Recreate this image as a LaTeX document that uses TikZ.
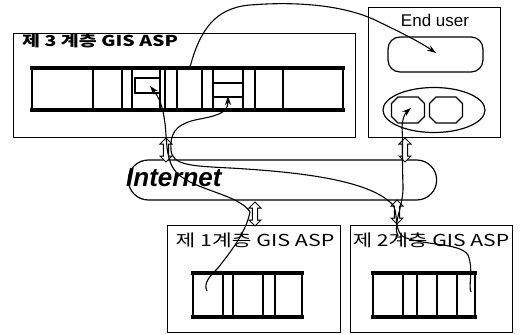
\documentclass[tikz,border=0pt]{standalone}
\usepackage{fontspec}
\newfontfamily\krfont{Noto Sans CJK KR}
\newfontfamily\lsans{Liberation Sans}
\usetikzlibrary{arrows.meta,shapes.arrows,shapes.misc,shapes.geometric,positioning}
\tikzset{
  >={Stealth[length=9pt,width=6pt]},
  layer/.style={draw,line width=1.2pt,anchor=north west,inner sep=0pt},
  rail/.style={line width=3.5pt},
  cell/.style={line width=1.6pt},
  flow/.style={line width=1.1pt},
  link/.style={double arrow,draw,fill=white,rotate=90,line width=1pt,
    minimum height=24pt,minimum width=12pt,inner sep=2pt,
    double arrow head extend=3pt},
}

\begin{document}
\begin{tikzpicture}[x=1pt,y=-1pt]
\useasboundingbox (0,0) rectangle (520,335);

% layer boxes
\node[layer,minimum width=342pt,minimum height=104pt] (asp3) at (13,33) {};
\node[layer,minimum width=132pt,minimum height=130pt] (user) at (368,7) {};
\node[layer,minimum width=173pt,minimum height=107pt] (asp1) at (167,225) {};
\node[layer,minimum width=162pt,minimum height=107pt] (asp2) at (350,225) {};

\node[anchor=west,inner sep=0pt,font=\krfont\bfseries\fontsize{15}{15}\selectfont] (t3) at (22,41) {\scalebox{1.3}[1]{제 3 계층 GIS ASP}};
\node[inner sep=0pt,font=\lsans\fontsize{17}{17}\selectfont] (tu) at (435,20) {End user};
\node[inner sep=0pt,font=\krfont\fontsize{16.5}{16.5}\selectfont] (t1) at (255,240) {\scalebox{1.3}[1]{제 1계층 GIS ASP}};
\node[inner sep=0pt,font=\krfont\fontsize{16.5}{16.5}\selectfont] (t2) at (431,240) {\scalebox{1.28}[1]{제 2계층 GIS ASP}};

% table bars
\draw[cell] (32,68) rectangle (343,110);
\draw[rail] (30,68) -- (345,68) (30,110) -- (345,110);
\foreach \x in {93,122,132,160,165,177,202,213,243,255,283}
  \draw[cell] (\x,68) -- (\x,110);
\draw[cell] (135,78) rectangle (160,93);
\draw[cell] (213,83) -- (243,83) (213,97) -- (243,97);

\draw[cell] (193,273) rectangle (302,317);
\draw[rail] (191,273) -- (304,273) (191,317) -- (304,317);
\foreach \x in {223,233,263,275}
  \draw[cell] (\x,273) -- (\x,317);

\draw[cell] (373,273) rectangle (475,317);
\draw[rail] (371,273) -- (477,273) (371,317) -- (477,317);
\foreach \x in {403,417,437,457}
  \draw[cell] (\x,273) -- (\x,317);

% end user screen
\node[draw,line width=1.2pt,rounded corners=12pt,minimum width=95pt,minimum height=35pt] (scr) at (435.5,54.5) {};
\node[draw,ellipse,line width=1.2pt,minimum width=102pt,minimum height=45pt] (pad) at (434,110) {};
\foreach \cx in {408,446}
  \draw[line width=1.2pt] (\cx-10,97) -- (\cx+10,97) -- (\cx+16.5,103.5) -- (\cx+16.5,116.5)
    -- (\cx+10,123) -- (\cx-10,123) -- (\cx-16.5,116.5) -- (\cx-16.5,103.5) -- cycle;

% internet
\node[draw,rounded rectangle,line width=1.2pt,minimum width=315pt,minimum height=40pt] (net) at (282.5,180) {};
\node[anchor=west,inner sep=0pt,font=\lsans\bfseries\itshape\fontsize{26}{26}\selectfont] (tnet) at (126,178) {Internet};

\node[link] (l3) at (166,150) {};
\node[link] (lu) at (405,150) {};
\node[link] (l1) at (255,214) {};
\node[link] (l2) at (397,212) {};

% flows
\coordinate (s3) at (190,67);
\coordinate (e3) at (436,53);
\coordinate (s1) at (207,291);
\coordinate (e1) at (150,86);
\coordinate (s2) at (471,292);
\coordinate (e2) at (228,96);
\coordinate (sb) at (398,236);
\coordinate (eb) at (411,108);

\draw[flow,->] (s3) .. controls (200,30) and (215,8) .. (250,5)
  .. controls (300,1) and (345,6) .. (375,20) .. controls (400,32) and (420,42) .. (e3);
\draw[flow,->] (s1) .. controls (203,283) and (210,276) .. (218,268)
  .. controls (232,250) and (246,232) .. (250,212)
  .. controls (240,195) and (195,190) .. (178,174)
  .. controls (168,165) and (167,150) .. (166,135)
  .. controls (165,120) and (163,102) .. (e1);
\draw[flow,->] (s2) .. controls (468,286) and (474,270) .. (468,255)
  .. controls (460,242) and (420,246) .. (402,236)
  .. controls (394,228) and (398,212) .. (393,205)
  .. controls (370,180) and (300,172) .. (230,168)
  .. controls (190,166) and (172,165) .. (171,150)
  .. controls (170,135) and (174,125) .. (195,120)
  .. controls (215,116) and (228,114) .. (e2);
\draw[flow,->] (sb) .. controls (392,225) and (404,205) .. (403,185)
  .. controls (402,160) and (403,140) .. (402,128) .. controls (402,120) and (405,113) .. (eb);
\end{tikzpicture}
\end{document}
